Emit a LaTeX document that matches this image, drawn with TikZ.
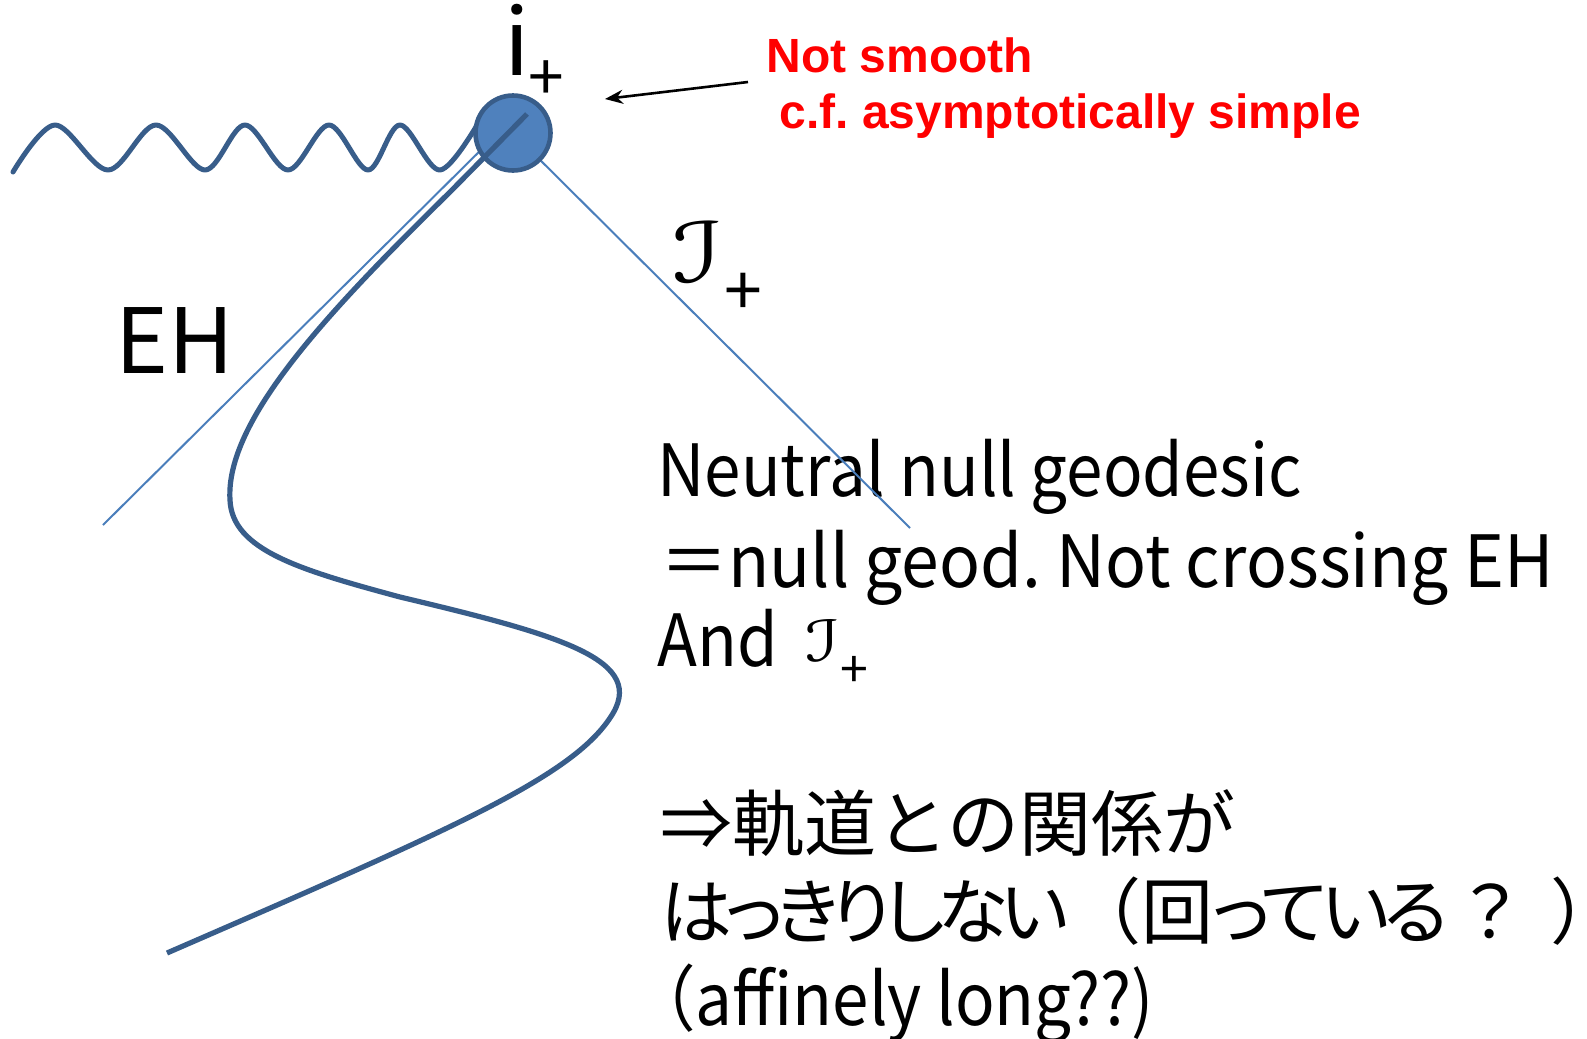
\documentclass[tikz,border=0pt]{standalone}
\usepackage{fontspec}
\setmainfont{Noto Sans CJK JP}
\newfontfamily\jpfont{Noto Sans CJK JP}[RawFeature=+palt,LetterSpace=-8]
\newfontfamily\jpfonttight{Noto Sans CJK JP}[RawFeature=+palt,LetterSpace=-10]
\newfontfamily\latinfont{Noto Sans CJK JP}[FakeStretch=0.91]
\newfontfamily\redfont{Liberation Sans}
\newfontfamily\scrfont{DejaVu Sans}
\usetikzlibrary{arrows.meta}
\definecolor{darkblue}{HTML}{385D8A}
\definecolor{fillblue}{HTML}{4F81BD}
\definecolor{thinblue}{HTML}{4A7EBB}
\definecolor{pptred}{HTML}{FF0000}
\newcommand{\scrI}{\scalebox{1.3}[1]{\scrfont ℐ}}
\frenchspacing
\begin{document}
\begin{tikzpicture}[x=0.5pt,y=-0.5pt,
  wavestyle/.style={draw=darkblue,line width=2.5pt,line cap=round,line join=round},
  geod/.style={draw=darkblue,line width=2.6pt},
  thinline/.style={draw=thinblue,line width=1pt},
  bodytext/.style={anchor=base west,inner sep=0pt,font=\latinfont\fontsize{36}{40}\selectfont},
  jptext/.style={anchor=base west,inner sep=0pt,font=\fontsize{36}{40}\selectfont},
  redtext/.style={anchor=base west,inner sep=0pt,text=pptred,font=\redfont\bfseries\fontsize{24}{28}\selectfont},
]
\useasboundingbox (0,0) rectangle (1587,1039);
\fill[white] (0,0) rectangle (1587,1039);

% texts
\node[bodytext] (t1) at (657,496) {Neutral null geodesic};
\node[bodytext] (t2) at (660,587) {\scalebox{1.035}[1]{＝null geod. Not crossing EH}};
\node[bodytext] (t3) at (657,666) {And};
\node[jptext] (t4) at (660,850) {⇒軌道との関係が};
\node[jptext] (t5) at (660,938) {{\jpfonttight はっきりしない}（回{\jpfont っている}\kern3pt？\kern12pt）\kern-16pt};
\node[bodytext] (t6) at (630,1025) {（affinely long??)};

% lines
\coordinate (ehA) at (103,525);
\coordinate (ehB) at (498,133);
\coordinate (scA) at (513,133);
\coordinate (scB) at (910,528);
\draw[thinline] (ehA) -- (ehB);
\draw[thinline] (scA) -- (scB);

% wave
\draw[wavestyle] plot[smooth,tension=0.55] coordinates {(13,172) (55,125) (108,170) (156,125) (205,170) (245,125) (288,170) (329,125) (368,170) (400,125) (440,170) (480,120)};

% i+ point
\node[circle,draw=darkblue,fill=fillblue,line width=2.3pt,minimum size=37.5pt,inner sep=0pt] (ip) at (513,133) {};

% geodesic
\draw[geod] (527,114) -- (450,192) .. controls (330,310) and (225,420) .. (230,500)
  .. controls (232,550) and (300,570) .. (400,597)
  .. controls (560,635) and (650,660) .. (610,718)
  .. controls (570,778) and (450,830) .. (167,953);

% labels
\node[anchor=base,inner sep=0pt,font=\fontsize{46}{50}\selectfont] (ilab) at (517,75) {i};
\node[inner sep=0pt,font=\fontsize{32}{36}\selectfont] (iplus) at (546,81) {+};
\node[anchor=base west,inner sep=0pt,font=\fontsize{45}{50}\selectfont] (eh) at (115,373) {EH};
\node[inner sep=0pt,font=\fontsize{41.5}{46}\selectfont] (scri) at (698,252) {\scrI};
\node[inner sep=0pt,font=\fontsize{34}{38}\selectfont] (scriplus) at (743,294) {+};
\node[inner sep=0pt,font=\fontsize{28.3}{32}\selectfont] (andI) at (823,641) {\scrI};
\node[inner sep=0pt,font=\fontsize{25}{28}\selectfont] (andplus) at (854,672) {+};

% red note
\node[redtext] (r1) at (766,72) {Not smooth};
\node[redtext] (r2) at (779,128) {c.f. asymptotically simple};
\coordinate (arS) at (748,82);
\coordinate (arE) at (605,99);
\draw[-{Stealth[length=9pt,width=7pt]},line width=1.3pt] (arS) -- (arE);
\end{tikzpicture}
\end{document}
